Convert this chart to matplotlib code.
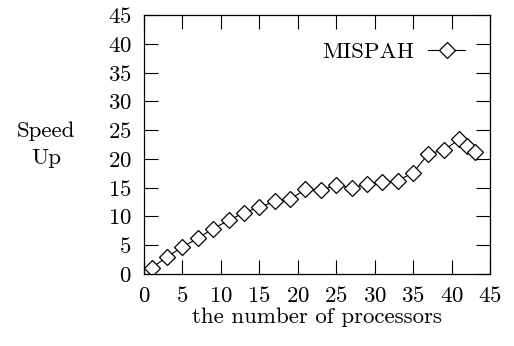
import numpy as np
import matplotlib
matplotlib.use("Agg")
import matplotlib.pyplot as plt

plt.rcParams['font.family'] = ['cmr10', 'DejaVu Serif']
plt.rcParams['axes.formatter.use_mathtext'] = True

processors = [1, 3, 5, 7, 9, 11, 13, 15, 17, 19, 21, 23, 25, 27, 29, 31, 33, 35, 37, 39, 41, 42, 43]
speedup = [1.1, 2.95, 4.7, 6.2, 7.9, 9.3, 10.65, 11.6, 12.6, 13.0, 14.7, 14.6, 15.4, 15.0, 15.6, 15.9,
           16.2, 17.6, 20.9, 21.5, 23.4, 22.3, 21.2]
ticks = [0, 5, 10, 15, 20, 25, 30, 35, 40, 45]

fs = 16.5
fig = plt.figure(figsize=(5.14, 3.46), dpi=100)
ax = fig.add_axes([144 / 514, 72 / 346, 346 / 514, 259 / 346])

ax.plot(processors, speedup, color='black', lw=0.8, marker='D', markersize=8.5,
        markerfacecolor='white', markeredgecolor='black', markeredgewidth=0.9, label='MISPAH')

ax.set_xlim(0, 45)
ax.set_ylim(0, 45)
ax.set_xticks(ticks)
ax.set_yticks(ticks)
ax.tick_params(direction='in', length=10, width=0.8, top=True, right=True, labelsize=fs)
ax.tick_params(axis='y', pad=9)
ax.tick_params(axis='x', pad=9)
for s in ax.spines.values():
    s.set_linewidth(0.9)

ax.set_xlabel('the number of processors', fontsize=fs, labelpad=1)
fig.text(46 / 514, 1 - 145 / 346, 'Speed\nUp', ha='center', va='center', fontsize=fs, linespacing=1.5)

ax.legend(loc='center right', frameon=False, markerfirst=False, fontsize=fs,
          handlelength=1.6, handletextpad=0.6, bbox_to_anchor=(0.928, 0.856), borderaxespad=0,
          borderpad=0)

fig.savefig('out.png', dpi=100)
